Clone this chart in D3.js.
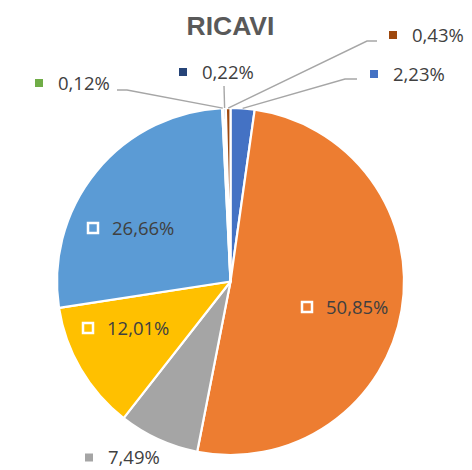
<!DOCTYPE html>
<html>
<head>
<meta charset="utf-8">
<script src="https://cdn.jsdelivr.net/npm/d3@7"></script>
<style>
  body { margin: 0; background: #fff; }
  svg { display: block; }
</style>
</head>
<body>
<div id="chart"></div>
<script>
// RICAVI - torta con etichette percentuali

const categories = ["A", "B", "C", "D", "E", "F", "G", "H"];
const values = [2.23, 50.85, 7.49, 12.01, 26.66, 0.12, 0.22, 0.43];
const labels = ["2,23%", "50,85%", "7,49%", "12,01%", "26,66%", "0,12%", "0,22%", "0,43%"];
const colors = ["#4472C4", "#ED7D31", "#A5A5A5", "#FFC000", "#5B9BD5", "#70AD47", "#264478", "#9E480E"];

// posizione etichette (marker) e tipo: interna o esterna con linea guida
const labelLayout = [
  { mx: 374, my: 74, inside: false, elbow: [345, 79], end: [357, 79] },
  { mx: 307, my: 307, inside: true },
  { mx: 89, my: 457.5, inside: false },
  { mx: 88, my: 328, inside: true },
  { mx: 93, my: 228, inside: true },
  { mx: 39, my: 83, inside: false, elbow: [127, 90], end: [117, 90] },
  { mx: 183, my: 72, inside: false, elbow: [224, 86], end: [224, 86] },
  { mx: 393, my: 35, inside: false, elbow: [367, 41], end: [377, 41] }
];

const W = 472, H = 470;
const cx = 230.5, cy = 281.5, R = 173.5;

const svg = d3.select("#chart").append("svg")
  .attr("width", W)
  .attr("height", H);

const data = categories.map((c, i) => ({ cat: c, value: values[i], label: labels[i], color: colors[i], lay: labelLayout[i] }));

const pie = d3.pie().sort(null).value(d => d.value).startAngle(0).endAngle(2 * Math.PI);
const arc = d3.arc().innerRadius(0).outerRadius(R);
const arcs = pie(data);

const g = svg.append("g").attr("transform", `translate(${cx},${cy})`);

g.selectAll("path.slice")
  .data(arcs)
  .enter().append("path")
  .attr("class", "slice")
  .attr("d", arc)
  .attr("fill", d => d.data.color)
  .attr("stroke", "#fff")
  .attr("stroke-width", 2.2)
  .attr("stroke-linejoin", "round");

// linee guida
const leaders = arcs.filter(d => d.data.lay.elbow);
svg.selectAll("polyline.leader")
  .data(leaders)
  .enter().append("polyline")
  .attr("class", "leader")
  .attr("points", d => {
    const a = (d.startAngle + d.endAngle) / 2;
    const sx = cx + R * Math.sin(a);
    const sy = cy - R * Math.cos(a);
    const l = d.data.lay;
    return [[sx, sy], l.elbow, l.end].map(p => p.join(",")).join(" ");
  })
  .attr("fill", "none")
  .attr("stroke", "#A6A6A6")
  .attr("stroke-width", 1.4);

// marker
svg.selectAll("rect.mk")
  .data(data)
  .enter().append("rect")
  .attr("class", "mk")
  .attr("x", d => d.lay.mx - (d.lay.inside ? 5 : 4))
  .attr("y", d => d.lay.my - (d.lay.inside ? 5 : 4))
  .attr("width", d => d.lay.inside ? 10 : 8)
  .attr("height", d => d.lay.inside ? 10 : 8)
  .attr("fill", d => d.color)
  .attr("stroke", d => d.lay.inside ? "#fff" : "none")
  .attr("stroke-width", 2.5);

// testi
svg.selectAll("text.lbl")
  .data(data)
  .enter().append("text")
  .attr("class", "lbl")
  .attr("x", d => d.lay.mx + 19)
  .attr("y", d => d.lay.my)
  .attr("dy", "0.36em")
  .style("font-family", "'Open Sans', sans-serif")
  .style("font-size", "18.5px")
  .style("fill", "#404040")
  .text(d => d.label);

// titolo
svg.append("text")
  .attr("x", 230.5)
  .attr("y", 35)
  .attr("text-anchor", "middle")
  .style("font-family", "'Liberation Sans', Arial, sans-serif")
  .style("font-size", "26.5px")
  .style("font-weight", "700")
  .style("fill", "#595959")
  .text("RICAVI");
</script>
</body>
</html>
